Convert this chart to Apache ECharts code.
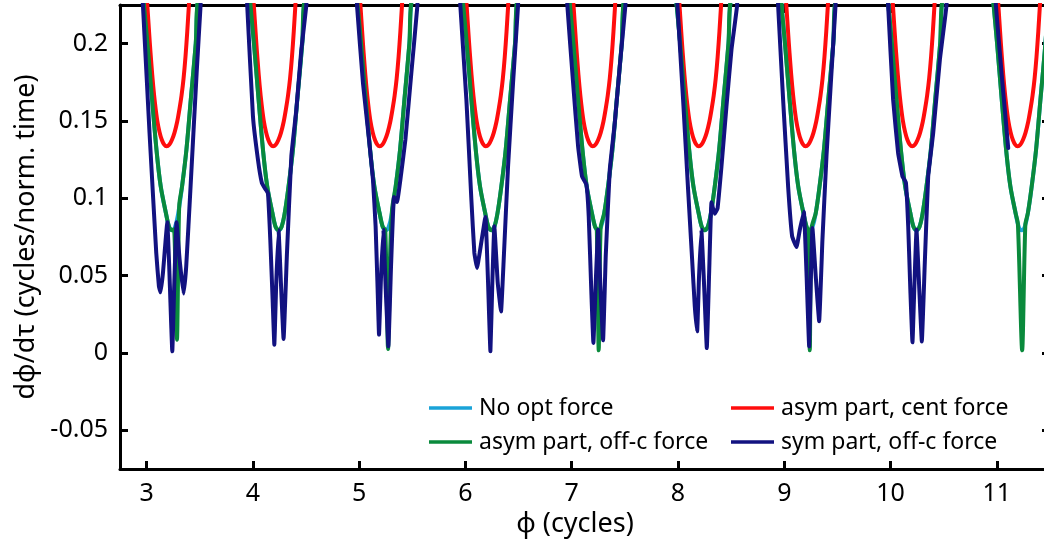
<!DOCTYPE html>
<html>
<head>
<meta charset="utf-8">
<title>Phase velocity</title>
<script src="https://cdn.jsdelivr.net/npm/echarts@6/dist/echarts.min.js"></script>
<style>
  html, body { margin: 0; padding: 0; background: #ffffff; }
  #chart { width: 1044px; height: 544px; }
</style>
</head>
<body>
<div id="chart"></div>
<script>
// Axis ticks and labels
const xTicks = [3, 4, 5, 6, 7, 8, 9, 10, 11];
const yTicks = [-0.05, 0, 0.05, 0.1, 0.15, 0.2];
const yTickLabels = ['-0.05', '0', '0.05', '0.1', '0.15', '0.2'];

const seriesNames = ['No opt force', 'asym part, cent force', 'asym part, off-c force', 'sym part, off-c force'];

// No optical force: [phi, dphi/dtau]
const noOptForce = [
  [2.950,0.244],[2.976,0.2246],[3.008,0.2004],[3.052,0.1638],[3.093,0.1315],[3.133,0.1078],[3.182,0.0905],[3.212,0.0815],[3.240,0.0793],[3.268,0.0815],[3.298,0.0905],[3.334,0.1078],[3.375,0.1315],[3.416,0.1638],[3.463,0.2004],[3.490,0.230],
  [3.952,0.244],[3.978,0.2246],[4.010,0.2004],[4.054,0.1638],[4.095,0.1315],[4.135,0.1078],[4.184,0.0905],[4.214,0.0815],[4.242,0.0793],[4.270,0.0815],[4.300,0.0905],[4.336,0.1078],[4.377,0.1315],[4.418,0.1638],[4.465,0.2004],[4.492,0.230],
  [4.960,0.244],[4.986,0.2246],[5.018,0.2004],[5.062,0.1638],[5.103,0.1315],[5.143,0.1078],[5.192,0.0905],[5.222,0.0815],[5.250,0.0793],[5.278,0.0815],[5.308,0.0905],[5.344,0.1078],[5.385,0.1315],[5.426,0.1638],[5.473,0.2004],[5.500,0.230],
  [5.954,0.244],[5.980,0.2246],[6.012,0.2004],[6.056,0.1638],[6.097,0.1315],[6.137,0.1078],[6.186,0.0905],[6.216,0.0815],[6.244,0.0793],[6.272,0.0815],[6.302,0.0905],[6.338,0.1078],[6.379,0.1315],[6.420,0.1638],[6.467,0.2004],[6.494,0.230],
  [6.958,0.244],[6.984,0.2246],[7.016,0.2004],[7.060,0.1638],[7.101,0.1315],[7.141,0.1078],[7.190,0.0905],[7.220,0.0815],[7.248,0.0793],[7.276,0.0815],[7.306,0.0905],[7.342,0.1078],[7.383,0.1315],[7.424,0.1638],[7.471,0.2004],[7.498,0.230],
  [7.962,0.244],[7.988,0.2246],[8.020,0.2004],[8.064,0.1638],[8.105,0.1315],[8.145,0.1078],[8.194,0.0905],[8.224,0.0815],[8.252,0.0793],[8.280,0.0815],[8.310,0.0905],[8.346,0.1078],[8.387,0.1315],[8.428,0.1638],[8.475,0.2004],[8.502,0.230],
  [8.948,0.244],[8.974,0.2246],[9.006,0.2004],[9.050,0.1638],[9.091,0.1315],[9.131,0.1078],[9.180,0.0905],[9.210,0.0815],[9.238,0.0793],[9.266,0.0815],[9.296,0.0905],[9.332,0.1078],[9.373,0.1315],[9.414,0.1638],[9.461,0.2004],[9.488,0.230],
  [9.954,0.244],[9.980,0.2246],[10.012,0.2004],[10.056,0.1638],[10.097,0.1315],[10.137,0.1078],[10.186,0.0905],[10.216,0.0815],[10.244,0.0793],[10.272,0.0815],[10.302,0.0905],[10.338,0.1078],[10.379,0.1315],[10.420,0.1638],[10.467,0.2004],[10.494,0.230],
  [10.944,0.244],[10.970,0.2246],[11.002,0.2004],[11.046,0.1638],[11.087,0.1315],[11.127,0.1078],[11.176,0.0905],[11.206,0.0815],[11.234,0.0793],[11.262,0.0815],[11.292,0.0905],[11.328,0.1078],[11.369,0.1315],[11.410,0.1638],[11.457,0.2004],[11.484,0.230]
];

// Asymmetric particle, centred force
const asymCent = [
  [2.990,0.243],[3.003,0.229],[3.016,0.2155],[3.030,0.201],[3.045,0.187],[3.062,0.173],[3.080,0.161],[3.100,0.1505],[3.122,0.1428],[3.144,0.1377],[3.166,0.1347],[3.188,0.1336],
  [3.213,0.1346],[3.238,0.1377],[3.263,0.1425],[3.288,0.1495],[3.310,0.158],[3.329,0.1665],[3.348,0.1775],[3.366,0.1915],[3.383,0.208],[3.398,0.2246],[3.413,0.240],
  [3.992,0.243],[4.005,0.229],[4.018,0.2155],[4.032,0.201],[4.047,0.187],[4.064,0.173],[4.082,0.161],[4.102,0.1505],[4.124,0.1428],[4.146,0.1377],[4.168,0.1347],[4.190,0.1336],
  [4.215,0.1346],[4.240,0.1377],[4.265,0.1425],[4.290,0.1495],[4.312,0.158],[4.331,0.1665],[4.350,0.1775],[4.368,0.1915],[4.385,0.208],[4.400,0.2246],[4.415,0.240],
  [4.995,0.243],[5.008,0.229],[5.021,0.2155],[5.035,0.201],[5.050,0.187],[5.067,0.173],[5.085,0.161],[5.105,0.1505],[5.127,0.1428],[5.149,0.1377],[5.171,0.1347],[5.193,0.1336],
  [5.218,0.1346],[5.243,0.1377],[5.268,0.1425],[5.293,0.1495],[5.315,0.158],[5.334,0.1665],[5.353,0.1775],[5.371,0.1915],[5.388,0.208],[5.403,0.2246],[5.418,0.240],
  [5.994,0.243],[6.007,0.229],[6.020,0.2155],[6.034,0.201],[6.049,0.187],[6.066,0.173],[6.084,0.161],[6.104,0.1505],[6.126,0.1428],[6.148,0.1377],[6.170,0.1347],[6.192,0.1336],
  [6.217,0.1346],[6.242,0.1377],[6.267,0.1425],[6.292,0.1495],[6.314,0.158],[6.333,0.1665],[6.352,0.1775],[6.370,0.1915],[6.387,0.208],[6.402,0.2246],[6.417,0.240],
  [7.000,0.243],[7.013,0.229],[7.026,0.2155],[7.040,0.201],[7.055,0.187],[7.072,0.173],[7.090,0.161],[7.110,0.1505],[7.132,0.1428],[7.154,0.1377],[7.176,0.1347],[7.198,0.1336],
  [7.223,0.1346],[7.248,0.1377],[7.273,0.1425],[7.298,0.1495],[7.320,0.158],[7.339,0.1665],[7.358,0.1775],[7.376,0.1915],[7.393,0.208],[7.408,0.2246],[7.423,0.240],
  [7.997,0.243],[8.010,0.229],[8.023,0.2155],[8.037,0.201],[8.052,0.187],[8.069,0.173],[8.087,0.161],[8.107,0.1505],[8.129,0.1428],[8.151,0.1377],[8.173,0.1347],[8.195,0.1336],
  [8.220,0.1346],[8.245,0.1377],[8.270,0.1425],[8.295,0.1495],[8.317,0.158],[8.336,0.1665],[8.355,0.1775],[8.373,0.1915],[8.390,0.208],[8.405,0.2246],[8.420,0.240],
  [9.002,0.243],[9.015,0.229],[9.028,0.2155],[9.042,0.201],[9.057,0.187],[9.074,0.173],[9.092,0.161],[9.112,0.1505],[9.134,0.1428],[9.156,0.1377],[9.178,0.1347],[9.200,0.1336],
  [9.225,0.1346],[9.250,0.1377],[9.275,0.1425],[9.300,0.1495],[9.322,0.158],[9.341,0.1665],[9.360,0.1775],[9.378,0.1915],[9.395,0.208],[9.410,0.2246],[9.425,0.240],
  [10.005,0.243],[10.018,0.229],[10.031,0.2155],[10.045,0.201],[10.060,0.187],[10.077,0.173],[10.095,0.161],[10.115,0.1505],[10.137,0.1428],[10.159,0.1377],[10.181,0.1347],[10.203,0.1336],
  [10.228,0.1346],[10.253,0.1377],[10.278,0.1425],[10.303,0.1495],[10.325,0.158],[10.344,0.1665],[10.363,0.1775],[10.381,0.1915],[10.398,0.208],[10.413,0.2246],[10.428,0.240],
  [10.997,0.243],[11.010,0.229],[11.023,0.2155],[11.037,0.201],[11.052,0.187],[11.069,0.173],[11.087,0.161],[11.107,0.1505],[11.129,0.1428],[11.151,0.1377],[11.173,0.1347],[11.195,0.1336],
  [11.220,0.1346],[11.245,0.1377],[11.270,0.1425],[11.295,0.1495],[11.317,0.158],[11.336,0.1665],[11.355,0.1775],[11.373,0.1915],[11.390,0.208],[11.405,0.2246],[11.420,0.240]
];

// Asymmetric particle, off-centre force
const asymOff = [
  [2.950,0.244],[2.976,0.2246],[3.008,0.2004],[3.052,0.1638],[3.093,0.1315],[3.133,0.1078],[3.182,0.0905],[3.212,0.0815],[3.240,0.0793],[3.258,0.0800],[3.286,0.0086],[3.298,0.060],[3.308,0.096],[3.334,0.1078],[3.375,0.1315],[3.416,0.1638],[3.463,0.2004],[3.490,0.230],
  [3.952,0.244],[3.978,0.2246],[4.010,0.2004],[4.054,0.1638],[4.095,0.1315],[4.135,0.1078],[4.184,0.0905],[4.214,0.0815],[4.242,0.0793],[4.270,0.0815],[4.300,0.0905],[4.336,0.1078],[4.377,0.1315],[4.418,0.1638],[4.465,0.2004],[4.492,0.230],
  [4.960,0.244],[4.986,0.2246],[5.018,0.2004],[5.062,0.1638],[5.103,0.1315],[5.143,0.1078],[5.192,0.0905],[5.222,0.0815],[5.246,0.0795],[5.272,0.0026],[5.292,0.065],[5.310,0.093],[5.344,0.1078],[5.385,0.1315],[5.426,0.1638],[5.473,0.2004],[5.500,0.230],
  [5.954,0.244],[5.980,0.2246],[6.012,0.2004],[6.056,0.1638],[6.097,0.1315],[6.137,0.1078],[6.186,0.0905],[6.216,0.0815],[6.244,0.0793],[6.272,0.0815],[6.302,0.0905],[6.338,0.1078],[6.379,0.1315],[6.420,0.1638],[6.467,0.2004],[6.494,0.230],
  [6.958,0.244],[6.984,0.2246],[7.016,0.2004],[7.060,0.1638],[7.101,0.1315],[7.141,0.1078],[7.190,0.0905],[7.220,0.0815],[7.236,0.0800],[7.254,0.0017],[7.272,0.0810],[7.306,0.0905],[7.342,0.1078],[7.383,0.1315],[7.424,0.1638],[7.471,0.2004],[7.498,0.230],
  [7.962,0.244],[7.988,0.2246],[8.020,0.2004],[8.064,0.1638],[8.105,0.1315],[8.145,0.1078],[8.194,0.0905],[8.224,0.0815],[8.252,0.0793],[8.280,0.0815],[8.310,0.0905],[8.346,0.1078],[8.387,0.1315],[8.428,0.1638],[8.475,0.2004],[8.502,0.230],
  [8.948,0.244],[8.974,0.2246],[9.006,0.2004],[9.050,0.1638],[9.091,0.1315],[9.131,0.1078],[9.180,0.0905],[9.210,0.0815],[9.226,0.0797],[9.240,0.0017],[9.256,0.0805],[9.296,0.0905],[9.332,0.1078],[9.373,0.1315],[9.414,0.1638],[9.461,0.2004],[9.488,0.230],
  [9.954,0.244],[9.980,0.2246],[10.012,0.2004],[10.056,0.1638],[10.097,0.1315],[10.137,0.1078],[10.186,0.0905],[10.216,0.0815],[10.244,0.0793],[10.272,0.0815],[10.302,0.0905],[10.338,0.1078],[10.379,0.1315],[10.420,0.1638],[10.467,0.2004],[10.494,0.230],
  [10.944,0.244],[10.970,0.2246],[11.002,0.2004],[11.046,0.1638],[11.087,0.1315],[11.127,0.1078],[11.176,0.0905],[11.198,0.0835],[11.238,0.0017],[11.268,0.0830],[11.292,0.0905],[11.328,0.1078],[11.369,0.1315],[11.410,0.1638],[11.457,0.2004],[11.484,0.230]
];

// Symmetric particle, off-centre force
const symOff = [
  [2.946,0.250],[2.966,0.2246],[3.028,0.1422],[3.091,0.0647],[3.116,0.0431],[3.132,0.0392],[3.154,0.0517],[3.195,0.0845],[3.213,0.0560],[3.242,0.0011],[3.260,0.0431],[3.282,0.0845],[3.311,0.0603],[3.348,0.0384],[3.373,0.0560],[3.414,0.1078],[3.471,0.1810],[3.508,0.2246],[3.529,0.250],
  [3.930,0.250],[3.947,0.2246],[4.001,0.1530],[4.048,0.1250],[4.085,0.1099],[4.117,0.1060],[4.142,0.1034],[4.164,0.0733],[4.186,0.0345],[4.202,0.0054],[4.220,0.0453],[4.242,0.0793],[4.264,0.0453],[4.289,0.0091],[4.321,0.0647],[4.362,0.1272],[4.409,0.1573],[4.456,0.1961],[4.503,0.2246],[4.520,0.250],
  [4.962,0.250],[4.980,0.2246],[5.036,0.1746],[5.093,0.1379],[5.130,0.1121],[5.155,0.0819],[5.174,0.0409],[5.187,0.0119],[5.206,0.0496],[5.228,0.0797],[5.249,0.0431],[5.275,0.0043],[5.300,0.0560],[5.328,0.1009],[5.356,0.0976],[5.388,0.1121],[5.435,0.1379],[5.491,0.1810],[5.548,0.2246],[5.565,0.250],
  [5.936,0.250],[5.952,0.2246],[6.009,0.1638],[6.056,0.0991],[6.084,0.0647],[6.109,0.0550],[6.134,0.0647],[6.188,0.0879],[6.213,0.0453],[6.235,0.0011],[6.253,0.0453],[6.272,0.0819],[6.304,0.0453],[6.335,0.0269],[6.360,0.0603],[6.401,0.1207],[6.448,0.1746],[6.495,0.2246],[6.516,0.250],
  [6.942,0.250],[6.959,0.2246],[7.013,0.1746],[7.060,0.1336],[7.097,0.1142],[7.138,0.1088],[7.160,0.0884],[7.185,0.0388],[7.204,0.0065],[7.226,0.0453],[7.248,0.0797],[7.270,0.0431],[7.295,0.0082],[7.320,0.0625],[7.358,0.1185],[7.405,0.1487],[7.452,0.1853],[7.505,0.2246],[7.522,0.250],
  [7.978,0.250],[7.995,0.2246],[8.048,0.1638],[8.095,0.1056],[8.133,0.0603],[8.158,0.0302],[8.180,0.0140],[8.198,0.0496],[8.220,0.0797],[8.246,0.0431],[8.271,0.0032],[8.293,0.0517],[8.315,0.0974],[8.345,0.0900],[8.372,0.0935],[8.409,0.1207],[8.456,0.1595],[8.503,0.1961],[8.556,0.2246],[8.572,0.250],
  [8.925,0.250],[8.942,0.2246],[8.989,0.1638],[9.036,0.1078],[9.074,0.0754],[9.115,0.0685],[9.146,0.0797],[9.184,0.0914],[9.209,0.0517],[9.234,0.0043],[9.249,0.0453],[9.265,0.0808],[9.296,0.0496],[9.328,0.0205],[9.359,0.0733],[9.397,0.1272],[9.438,0.1746],[9.482,0.2246],[9.497,0.250],
  [9.960,0.250],[9.977,0.2246],[10.024,0.1638],[10.071,0.1293],[10.112,0.1142],[10.144,0.1103],[10.166,0.0819],[10.187,0.0388],[10.206,0.0069],[10.225,0.0453],[10.244,0.0797],[10.269,0.0431],[10.294,0.0075],[10.322,0.0582],[10.354,0.1142],[10.401,0.1422],[10.464,0.1897],[10.526,0.2246],[10.542,0.250],
  [10.975,0.250],[10.991,0.2246],[11.047,0.1789],[11.107,0.1325]
];

const colors = ['#1aa3d8', '#ff0d0d', '#0a8a3c', '#121280'];
const font = 'Noto Sans';

const chart = echarts.init(document.getElementById('chart'), null, { renderer: 'canvas' });

const frameLine = { show: true, onZero: false, lineStyle: { color: '#000', width: 3 } };
const tickStyle = { show: true, inside: true, length: 8, lineStyle: { color: '#000', width: 3 } };

function lineSeries(name, data, color, smooth) {
  return {
    name: name,
    type: 'line',
    data: data,
    showSymbol: false,
    symbol: 'none',
    smooth: smooth,
    clip: true,
    color: color,
    lineStyle: { color: color, width: 4, cap: 'round', join: 'round' },
    itemStyle: { color: color },
    emphasis: { disabled: true }
  };
}

const legendText = { fontFamily: font, fontSize: 23, color: '#000', lineHeight: 30, padding: [0, 0, 0, 2] };

chart.setOption({
  animation: false,
  backgroundColor: '#ffffff',
  grid: { left: 120, top: 5, width: 930, height: 464, outerBoundsMode: 'none', containLabel: false },
  legend: [
    { orient: 'vertical', left: 424, top: 388, data: [seriesNames[0], seriesNames[2]],
      icon: 'rect', itemWidth: 43, itemHeight: 3.5, itemGap: 4, selectedMode: false, textStyle: legendText },
    { orient: 'vertical', left: 726, top: 388, data: [seriesNames[1], seriesNames[3]],
      icon: 'rect', itemWidth: 43, itemHeight: 3.5, itemGap: 4, selectedMode: false, textStyle: legendText }
  ],
  xAxis: [
    {
      type: 'value', position: 'bottom', min: 2.75, max: 11.5,
      name: 'ϕ (cycles)', nameLocation: 'middle', nameGap: 42,
      nameTextStyle: { fontFamily: font, fontSize: 27, color: '#000', padding: [0, 20, 0, 0] },
      axisLine: frameLine,
      axisTick: Object.assign({ customValues: xTicks }, tickStyle),
      axisLabel: { customValues: xTicks, margin: 12, fontFamily: font, fontSize: 25, color: '#000' },
      splitLine: { show: false }
    },
    {
      type: 'value', position: 'top', min: 2.75, max: 11.5,
      axisLine: frameLine,
      axisTick: Object.assign({ customValues: xTicks }, tickStyle),
      axisLabel: { show: false },
      splitLine: { show: false }
    }
  ],
  yAxis: [
    {
      type: 'value', position: 'left', min: -0.075, max: 0.225,
      name: 'dϕ/dτ (cycles/norm. time)', nameLocation: 'middle', nameGap: 80, nameRotate: 90,
      nameTextStyle: { fontFamily: font, fontSize: 27, color: '#000' },
      axisLine: frameLine,
      axisTick: Object.assign({ customValues: yTicks }, tickStyle),
      axisLabel: {
        customValues: yTicks, margin: 12, fontFamily: font, fontSize: 25, color: '#000',
        formatter: function (v) {
          const i = yTicks.findIndex(function (t) { return Math.abs(t - v) < 1e-9; });
          return i >= 0 ? yTickLabels[i] : String(v);
        }
      },
      splitLine: { show: false }
    },
    {
      type: 'value', position: 'right', min: -0.075, max: 0.225,
      axisLine: frameLine,
      axisTick: Object.assign({ customValues: yTicks }, tickStyle),
      axisLabel: { show: false },
      splitLine: { show: false }
    }
  ],
  series: [
    lineSeries(seriesNames[0], noOptForce, colors[0], 0.4),
    lineSeries(seriesNames[1], asymCent, colors[1], 0.3),
    lineSeries(seriesNames[2], asymOff, colors[2], 0.25),
    lineSeries(seriesNames[3], symOff, colors[3], 0.1)
  ]
});
</script>
</body>
</html>
